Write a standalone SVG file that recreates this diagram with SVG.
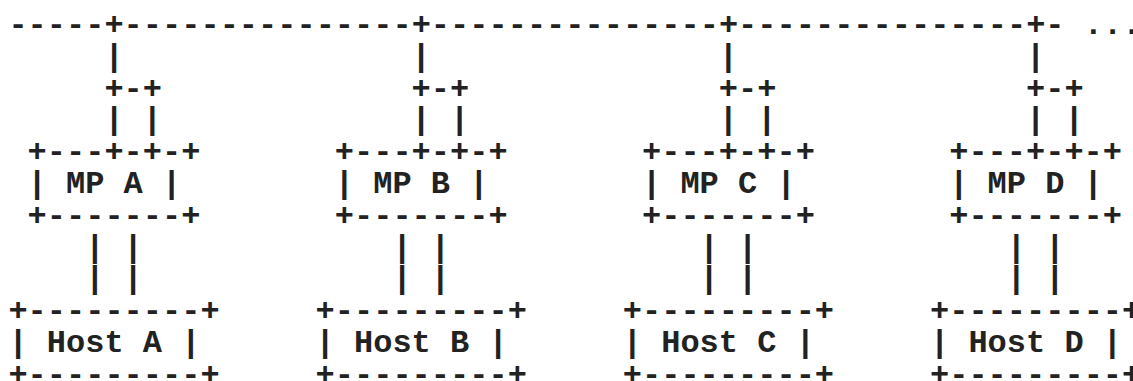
<svg xmlns="http://www.w3.org/2000/svg" width="1133" height="381" viewBox="0 0 1133 381" xml:space="preserve">
<style>
.t{font-family:"Liberation Mono","Courier New",monospace;font-size:32px;font-weight:bold;fill:#222;white-space:pre}
</style>
<rect width="1133" height="381" fill="#fff"/>
<g id="connectors" class="t">
<text x="8.4" y="34">-----+---------------+---------------+---------------+- ...</text>
<text x="104.4" y="65.8">|</text>
<text x="104.4" y="97.6">+-+</text>
<text x="104.4" y="129.4">| |</text>
<text x="85.2" y="256.6">| |</text>
<text x="85.2" y="288.4">| |</text>
<text x="411.6" y="65.8">|</text>
<text x="411.6" y="97.6">+-+</text>
<text x="411.6" y="129.4">| |</text>
<text x="392.4" y="256.6">| |</text>
<text x="392.4" y="288.4">| |</text>
<text x="718.8" y="65.8">|</text>
<text x="718.8" y="97.6">+-+</text>
<text x="718.8" y="129.4">| |</text>
<text x="699.6" y="256.6">| |</text>
<text x="699.6" y="288.4">| |</text>
<text x="1026" y="65.8">|</text>
<text x="1026" y="97.6">+-+</text>
<text x="1026" y="129.4">| |</text>
<text x="1006.8" y="256.6">| |</text>
<text x="1006.8" y="288.4">| |</text>
</g>
<g id="mp-a" class="t">
<text x="27.6" y="161.2">+---+-+-+</text>
<text x="27.6" y="193">| MP A  |</text>
<text x="27.6" y="224.8">+-------+</text>
</g>
<g id="host-a" class="t">
<text x="8.4" y="320.2">+---------+</text>
<text x="8.4" y="352">| Host  A |</text>
<text x="8.4" y="383.8">+---------+</text>
</g>
<g id="mp-b" class="t">
<text x="334.8" y="161.2">+---+-+-+</text>
<text x="334.8" y="193">| MP B  |</text>
<text x="334.8" y="224.8">+-------+</text>
</g>
<g id="host-b" class="t">
<text x="315.6" y="320.2">+---------+</text>
<text x="315.6" y="352">| Host  B |</text>
<text x="315.6" y="383.8">+---------+</text>
</g>
<g id="mp-c" class="t">
<text x="642" y="161.2">+---+-+-+</text>
<text x="642" y="193">| MP C  |</text>
<text x="642" y="224.8">+-------+</text>
</g>
<g id="host-c" class="t">
<text x="622.8" y="320.2">+---------+</text>
<text x="622.8" y="352">| Host  C |</text>
<text x="622.8" y="383.8">+---------+</text>
</g>
<g id="mp-d" class="t">
<text x="949.2" y="161.2">+---+-+-+</text>
<text x="949.2" y="193">| MP D  |</text>
<text x="949.2" y="224.8">+-------+</text>
</g>
<g id="host-d" class="t">
<text x="930" y="320.2">+---------+</text>
<text x="930" y="352">| Host  D |</text>
<text x="930" y="383.8">+---------+</text>
</g>
</svg>
